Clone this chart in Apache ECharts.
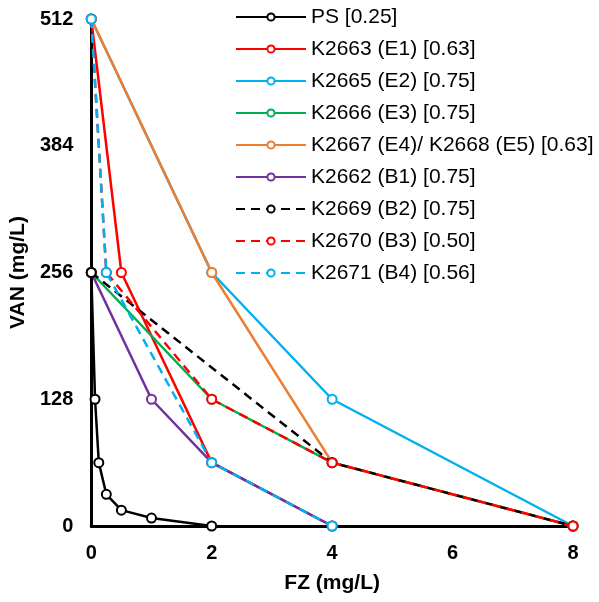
<!DOCTYPE html>
<html>
<head>
<meta charset="utf-8">
<script src="https://cdn.jsdelivr.net/npm/echarts@6/dist/echarts.min.js"></script>
<style>
  html, body { margin: 0; padding: 0; background: #fff; }
  #chart { width: 599px; height: 602px; }
</style>
</head>
<body>
<div id="chart"></div>
<script>
// isobologram data: [FZ, VAN] pairs for each strain
var psData   = [[0, 256], [0.0625, 128], [0.125, 64], [0.25, 32], [0.5, 16], [1, 8], [2, 0]];
var e1Data   = [[0, 512], [0.5, 256], [2, 64], [4, 0]];
var e2Data   = [[0, 512], [2, 256], [4, 128], [8, 0]];
var e3Data   = [[0, 256], [2, 128], [4, 64], [8, 0]];
var e4Data   = [[0, 512], [2, 256], [4, 64], [8, 0]];
var b1Data   = [[0, 256], [1, 128], [2, 64], [4, 0]];
var b2Data   = [[0, 256], [4, 64], [8, 0]];
var b3Data   = [[0, 512], [0.25, 256], [2, 128], [4, 64], [8, 0]];
var b4Data   = [[0, 512], [0.25, 256], [2, 64], [4, 0]];

var seriesNames = ['PS [0.25]', 'K2663 (E1) [0.63]', 'K2665 (E2) [0.75]', 'K2666 (E3) [0.75]',
  'K2667 (E4)/ K2668 (E5) [0.63]', 'K2662 (B1) [0.75]', 'K2669 (B2) [0.75]',
  'K2670 (B3) [0.50]', 'K2671 (B4) [0.56]'];
var seriesData = [psData, e1Data, e2Data, e3Data, e4Data, b1Data, b2Data, b3Data, b4Data];
var seriesColors = ['#000000', '#ff0000', '#00b0f0', '#00b050', '#ed7d31', '#7030a0', '#000000', '#ff0000', '#00b0f0'];
var seriesDashed = [false, false, false, false, false, false, true, true, true];

var xTicks = [0, 2, 4, 6, 8];
var yTicks = [0, 128, 256, 384, 512];

var dom = document.getElementById('chart');
var myChart = echarts.init(dom);

var series = [];
for (var i = 0; i < seriesNames.length; i++) {
	series.push({
		name: seriesNames[i],
		type: 'line',
		data: seriesData[i],
		symbol: 'emptyCircle',
		symbolSize: 9,
		showAllSymbol: true,
		z: 2 + i,
		lineStyle: {
			color: seriesColors[i],
			width: 2.5,
			type: seriesDashed[i] ? [9, 6] : 'solid'
		},
		itemStyle: {
			color: seriesColors[i],
			borderColor: seriesColors[i],
			borderWidth: 1.3
		},
		emphasis: { disabled: true }
	});
}

var option = {
	animation: false,
	textStyle: { fontFamily: 'Liberation Sans, Arial, sans-serif' },
	grid: {
		left: 91,
		right: 26,
		top: 19,
		bottom: 76
	},
	legend: {
		orient: 'vertical',
		left: 230,
		top: 1,
		itemWidth: 70,
		itemHeight: 9,
		itemGap: 10,
		textStyle: {
			color: '#000',
			fontSize: 21,
			lineHeight: 22
		},
		data: seriesNames
	},
	xAxis: {
		type: 'value',
		min: xTicks[0],
		max: xTicks[xTicks.length - 1],
		interval: 2,
		name: 'FZ (mg/L)',
		nameLocation: 'middle',
		nameGap: 47,
		nameTextStyle: { color: '#000', fontSize: 21, fontWeight: 'bold' },
		axisLine: { lineStyle: { color: '#000', width: 3 } },
		axisTick: { show: false },
		splitLine: { show: false },
		axisLabel: { color: '#000', fontSize: 20, fontWeight: 'bold', margin: 17 }
	},
	yAxis: {
		type: 'value',
		min: yTicks[0],
		max: yTicks[yTicks.length - 1],
		interval: 128,
		name: 'VAN (mg/L)',
		nameLocation: 'middle',
		nameGap: 62,
		nameTextStyle: { color: '#000', fontSize: 21, fontWeight: 'bold' },
		axisLine: { show: true, lineStyle: { color: '#000', width: 3 } },
		axisTick: { show: false },
		splitLine: { show: false },
		axisLabel: { color: '#000', fontSize: 20, fontWeight: 'bold', margin: 18 }
	},
	series: series
};

myChart.setOption(option, true);
</script>
</body>
</html>
